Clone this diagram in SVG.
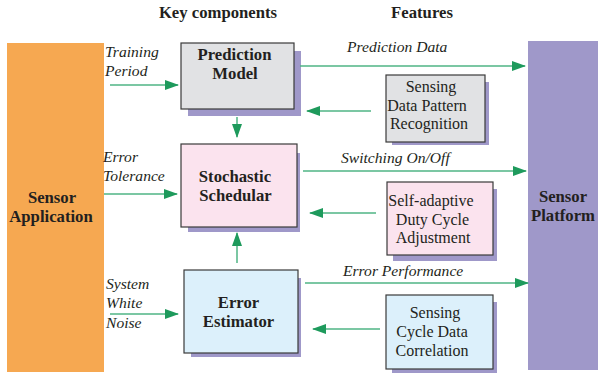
<svg xmlns="http://www.w3.org/2000/svg" width="602" height="377" viewBox="0 0 602 377">
<defs>
<style>
text{font-family:'Liberation Serif','Times New Roman',Tinos,'DejaVu Serif',serif}
.b{font-weight:bold;font-size:16.7px;fill:#231f20;text-anchor:middle}
.r{font-size:16px;fill:#231f20;text-anchor:middle}
.i{font-style:italic;font-size:15.6px;fill:#231f20}
.box{stroke:#3a3a3a;stroke-width:1.2}
.sh{fill:#9f98c9}
.c{stroke:#4fb584;stroke-width:1.5;fill:none;marker-end:url(#ah)}
</style>
<marker id="ah" viewBox="0 0 14 10" refX="13" refY="5" markerWidth="14" markerHeight="10" markerUnits="userSpaceOnUse" orient="auto">
<path d="M0,0 L14,5 L0,10 Z" fill="#1e9a5c"/>
</marker>
</defs>
<rect width="602" height="377" fill="#ffffff"/>
<text class="b" x="218" y="18">Key components</text>
<text class="b" x="422" y="18">Features</text>

<g id="sensor-application">
<rect x="7" y="43" width="97" height="329" fill="#f6a851"/>
<text class="b" x="52" y="203">Sensor</text>
<text class="b" x="51" y="222">Application</text>
</g>
<g id="sensor-platform">
<rect x="528" y="41" width="70" height="329" fill="#9f98c9"/>
<text class="b" x="563" y="202">Sensor</text>
<text class="b" x="563" y="221">Platform</text>
</g>

<g id="prediction-model">
<rect class="sh" x="188" y="51" width="113" height="65"/>
<rect class="box" x="181" y="43" width="113" height="66" fill="#e1e2e4"/>
<text class="b" x="234.5" y="60">Prediction</text>
<text class="b" x="235" y="79">Model</text>
</g>
<g id="stochastic-schedular">
<rect class="sh" x="188" y="153" width="112" height="79"/>
<rect class="box" x="181" y="144" width="116" height="83" fill="#fbe3ee"/>
<text class="b" x="235" y="182">Stochastic</text>
<text class="b" x="235.5" y="201">Schedular</text>
</g>
<g id="error-estimator">
<rect class="sh" x="191" y="278" width="110" height="79"/>
<rect class="box" x="184" y="270" width="114" height="83" fill="#dcf0fb"/>
<text class="b" x="238.5" y="308">Error</text>
<text class="b" x="238.5" y="327">Estimator</text>
</g>

<g id="sensing-data-pattern">
<rect class="sh" x="392" y="82" width="97" height="63"/>
<rect class="box" x="386" y="75" width="99" height="67" fill="#e1e2e4"/>
<text class="r" x="431" y="92">Sensing</text>
<text class="r" x="427" y="111">Data Pattern</text>
<text class="r" x="429" y="129">Recognition</text>
</g>
<g id="self-adaptive">
<rect class="sh" x="393" y="189" width="104" height="72"/>
<rect class="box" x="387" y="182" width="106" height="73" fill="#fbe3ee"/>
<text class="r" x="431" y="206">Self-adaptive</text>
<text class="r" x="432.5" y="225">Duty Cycle</text>
<text class="r" x="433" y="243">Adjustment</text>
</g>
<g id="sensing-cycle">
<rect class="sh" x="392" y="302" width="105" height="71"/>
<rect class="box" x="386" y="295" width="107" height="74" fill="#dcf0fb"/>
<text class="r" x="435" y="318">Sensing</text>
<text class="r" x="432" y="337">Cycle Data</text>
<text class="r" x="432" y="356">Correlation</text>
</g>

<g id="labels">
<text class="i" x="105" y="57">Training</text>
<text class="i" x="105" y="76">Period</text>
<text class="i" x="103" y="162">Error</text>
<text class="i" x="103" y="181">Tolerance</text>
<text class="i" x="106" y="289">System</text>
<text class="i" x="106" y="308">White</text>
<text class="i" x="106" y="328">Noise</text>
<text class="i" x="347" y="52">Prediction Data</text>
<text class="i" x="341" y="163">Switching On/Off</text>
<text class="i" x="343" y="276">Error Performance</text>
</g>

<g id="connectors">
<line class="c" x1="110" y1="85" x2="178" y2="85"/>
<line class="c" x1="104" y1="194" x2="177" y2="194"/>
<line class="c" x1="110" y1="314" x2="178" y2="314"/>
<line class="c" x1="237" y1="117" x2="237" y2="137"/>
<line class="c" x1="237" y1="263" x2="237" y2="233"/>
<line class="c" x1="300" y1="66" x2="525" y2="66"/>
<line class="c" x1="303" y1="171" x2="526" y2="171"/>
<line class="c" x1="305" y1="283" x2="528" y2="283"/>
<line class="c" x1="371" y1="111" x2="307" y2="111"/>
<line class="c" x1="376" y1="213" x2="310" y2="213"/>
<line class="c" x1="380" y1="329" x2="313" y2="329"/>
</g>
</svg>
